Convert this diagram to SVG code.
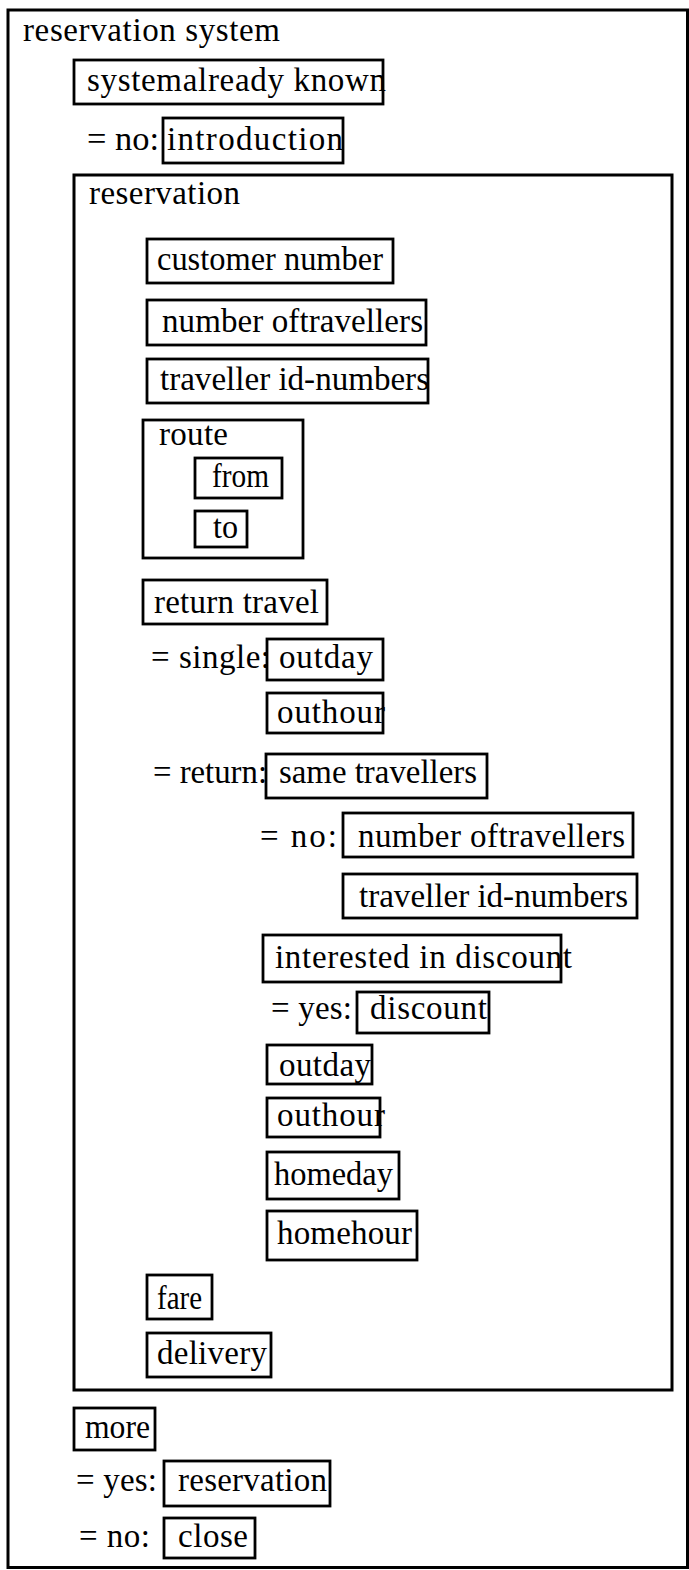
<svg xmlns="http://www.w3.org/2000/svg" width="689" height="1570" viewBox="0 0 689 1570">
<style>
rect{fill:none;stroke:#000;stroke-width:2.8}
text{font-family:"Liberation Serif","Times New Roman",serif;font-size:33px;fill:#000}
</style>
<rect x="0" y="0" width="689" height="1570" style="fill:#fff;stroke:none"/>
<g id="reservation-system">
<rect x="8" y="10" width="679.5" height="1557.5" style="stroke-width:3"/>
<text x="23" y="41" textLength="257" lengthAdjust="spacing">reservation system</text>
</g>
<g id="system-already-known">
<rect x="74" y="60" width="309" height="44"/>
<text x="87" y="91" textLength="299" lengthAdjust="spacing">systemalready known</text>
</g>
<g id="introduction">
<text x="87" y="150" textLength="72" lengthAdjust="spacingAndGlyphs">= no:</text>
<rect x="163" y="118" width="180" height="45"/>
<text x="167" y="150" textLength="176" lengthAdjust="spacing">introduction</text>
</g>
<g id="reservation">
<rect x="74" y="175" width="598" height="1215" style="stroke-width:3"/>
<text x="89" y="204" textLength="151" lengthAdjust="spacing">reservation</text>
</g>
<g id="customer-number">
<rect x="147" y="239" width="246" height="44"/>
<text x="157" y="270" textLength="226" lengthAdjust="spacingAndGlyphs">customer number</text>
</g>
<g id="number-of-travellers">
<rect x="147" y="300" width="279" height="45"/>
<text x="162" y="332" textLength="261" lengthAdjust="spacing">number oftravellers</text>
</g>
<g id="traveller-id-numbers">
<rect x="147" y="359" width="281" height="44"/>
<text x="160" y="390" textLength="269" lengthAdjust="spacingAndGlyphs">traveller id-numbers</text>
</g>
<g id="route">
<rect x="143" y="420" width="160" height="138"/>
<text x="159" y="445" textLength="69" lengthAdjust="spacing">route</text>
</g>
<g id="from">
<rect x="195" y="458" width="87" height="40"/>
<text x="212" y="487" textLength="57" lengthAdjust="spacingAndGlyphs">from</text>
</g>
<g id="to">
<rect x="195" y="511" width="52" height="36"/>
<text x="213" y="538" textLength="25" lengthAdjust="spacingAndGlyphs">to</text>
</g>
<g id="return-travel">
<rect x="143" y="580" width="184" height="44"/>
<text x="154" y="613" textLength="165" lengthAdjust="spacing">return travel</text>
</g>
<g id="single-outday">
<text x="151" y="668" textLength="119" lengthAdjust="spacing">= single:</text>
<rect x="267" y="639" width="116" height="41"/>
<text x="279" y="668" textLength="94" lengthAdjust="spacing">outday</text>
</g>
<g id="single-outhour">
<rect x="267" y="693" width="116" height="40"/>
<text x="277" y="723" textLength="108" lengthAdjust="spacing">outhour</text>
</g>
<g id="same-travellers">
<text x="153" y="783" textLength="114" lengthAdjust="spacingAndGlyphs">= return:</text>
<rect x="266" y="754" width="221" height="44"/>
<text x="279" y="783" textLength="198" lengthAdjust="spacingAndGlyphs">same travellers</text>
</g>
<g id="return-number-of-travellers">
<text x="260" y="847" textLength="77" lengthAdjust="spacing">= no:</text>
<rect x="343" y="813" width="290" height="44"/>
<text x="358" y="847" textLength="267" lengthAdjust="spacing">number oftravellers</text>
</g>
<g id="return-traveller-id-numbers">
<rect x="343" y="874" width="294" height="44"/>
<text x="359" y="907" textLength="269" lengthAdjust="spacingAndGlyphs">traveller id-numbers</text>
</g>
<g id="interested-in-discount">
<rect x="263" y="935" width="298" height="47"/>
<text x="275" y="968" textLength="297" lengthAdjust="spacing">interested in discount</text>
</g>
<g id="discount">
<text x="271" y="1019" textLength="81" lengthAdjust="spacing">= yes:</text>
<rect x="357" y="992" width="132" height="41"/>
<text x="370" y="1019" textLength="117" lengthAdjust="spacing">discount</text>
</g>
<g id="return-outday">
<rect x="267" y="1045" width="105" height="39"/>
<text x="279" y="1076" textLength="92" lengthAdjust="spacing">outday</text>
</g>
<g id="return-outhour">
<rect x="267" y="1098" width="113" height="39"/>
<text x="277" y="1126" textLength="108" lengthAdjust="spacing">outhour</text>
</g>
<g id="homeday">
<rect x="267" y="1152" width="132" height="47"/>
<text x="274" y="1185" textLength="119" lengthAdjust="spacingAndGlyphs">homeday</text>
</g>
<g id="homehour">
<rect x="267" y="1211" width="150" height="49"/>
<text x="277" y="1244" textLength="135" lengthAdjust="spacing">homehour</text>
</g>
<g id="fare">
<rect x="147" y="1275" width="65" height="44"/>
<text x="157" y="1309" textLength="45" lengthAdjust="spacingAndGlyphs">fare</text>
</g>
<g id="delivery">
<rect x="147" y="1333" width="124" height="44"/>
<text x="157" y="1364" textLength="110" lengthAdjust="spacing">delivery</text>
</g>
<g id="more">
<rect x="74" y="1408" width="81" height="42"/>
<text x="85" y="1438" textLength="65" lengthAdjust="spacingAndGlyphs">more</text>
</g>
<g id="more-reservation">
<text x="76" y="1491" textLength="81" lengthAdjust="spacing">= yes:</text>
<rect x="164" y="1461" width="166" height="45"/>
<text x="178" y="1491" textLength="149" lengthAdjust="spacing">reservation</text>
</g>
<g id="close">
<text x="79" y="1547" textLength="71" lengthAdjust="spacing">= no:</text>
<rect x="164" y="1518" width="91" height="40"/>
<text x="178" y="1547" textLength="70" lengthAdjust="spacing">close</text>
</g>
<g id="connectors"></g>
</svg>
